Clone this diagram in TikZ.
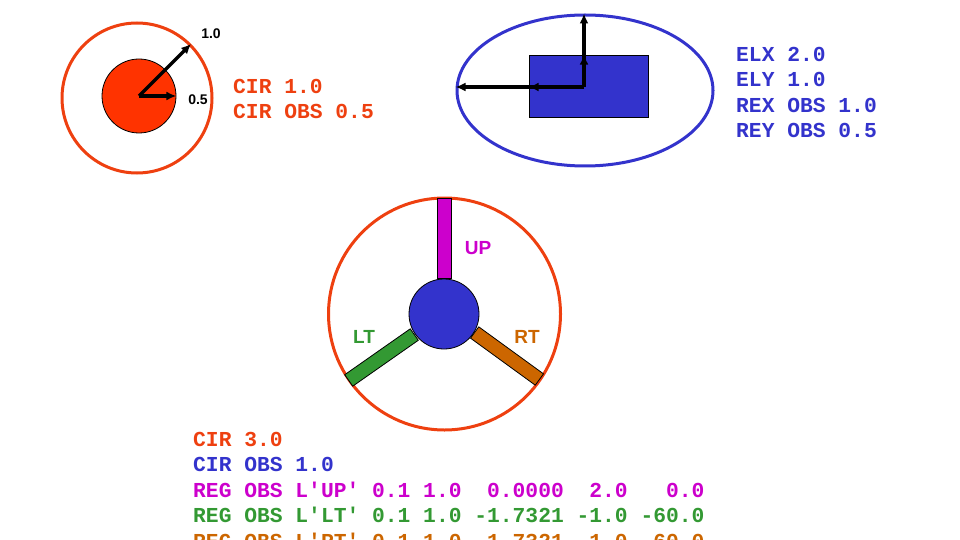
\documentclass[tikz,border=0pt]{standalone}
\usepackage{fontspec}
\setmainfont{Liberation Sans}
\newfontfamily\codefont[WordSpace={1,0,0}]{Liberation Mono}
\usetikzlibrary{shapes.geometric,arrows.meta,positioning}
\definecolor{cirred}{RGB}{238,64,16}
\definecolor{obsred}{RGB}{255,51,0}
\definecolor{obsblue}{RGB}{51,51,204}
\definecolor{upcol}{RGB}{204,0,204}
\definecolor{ltcol}{RGB}{51,153,51}
\definecolor{rtcol}{RGB}{204,102,0}
\newcommand{\qq}{\textquotesingle}

\begin{document}
\begin{tikzpicture}[
    x=1pt, y=-1pt,
    >=Stealth,
    arr/.style={-{Latex[length=10pt,width=9pt]}, line width=3.2pt, black},
    ring/.style={circle, draw=cirred, line width=3pt, inner sep=0pt},
    obs/.style={draw=black, line width=0.8pt, inner sep=0pt},
    bar/.style={rectangle, draw=black, line width=0.8pt, inner sep=0pt, minimum width=80pt, minimum height=14pt},
    code/.style={anchor=base west, inner sep=0pt, font=\codefont\bfseries\fontsize{21.3}{25.5}\selectfont},
    lbl/.style={inner sep=0pt, font=\bfseries\fontsize{14}{16}\selectfont},
    barlbl/.style={inner sep=0pt, font=\bfseries\fontsize{19}{20}\selectfont}
]
\useasboundingbox (0,0) rectangle (960,540);

% circle with circular obstacle
\node [ring, minimum size=150pt] (outer) at (137,98) {};
\node [obs, circle, fill=obsred, minimum size=74pt] (inner) at (139,96) {};
\draw [arr] (inner.center) -- (outer.45);
\draw [arr] (inner.center) -- (inner.east);
\node [lbl] (r1) at (211,34) {1.0};
\node [lbl] (r2) at (198,100) {0.5};
\node [code, text=cirred] (c1) at (233,94) {CIR 1.0};
\node [code, text=cirred] (c2) at (233,119) {CIR OBS 0.5};

% ellipse with rectangular obstacle
\node [ellipse, draw=obsblue, line width=3pt, inner sep=0pt, minimum width=256pt, minimum height=151pt] (ell) at (585,90.5) {};
\node [obs, rectangle, fill=obsblue, minimum width=119pt, minimum height=62pt] (rect) at (588.5,86) {};
\coordinate (o2) at (584,87);
\draw [arr] (o2) -- (o2 -| ell.west);
\draw [arr] (o2) -- (o2 -| rect.west);
\draw [arr] (o2) -- (o2 |- ell.north);
\draw [arr] (o2) -- (o2 |- rect.north);
\node [code, text=obsblue] (e1) at (736,62) {ELX 2.0};
\node [code, text=obsblue] (e2) at (736,87) {ELY 1.0};
\node [code, text=obsblue] (e3) at (736,112.5) {REX OBS 1.0};
\node [code, text=obsblue] (e4) at (736,138) {REY OBS 0.5};

% circle with three arms
\node [ring, minimum size=232pt] (big) at (444.5,314) {};
\node [obs, circle, fill=obsblue, minimum size=70pt] (hub) at (444,314) {};
\node [bar, fill=upcol, rotate=90] (up) at (444.5,238) {};
\node [bar, fill=ltcol, rotate=35] (lt) at (381.5,357.5) {};
\node [bar, fill=rtcol, rotate=-36] (rt) at (507,356) {};
\node [barlbl, text=upcol] (upl) at (478,248) {UP};
\node [barlbl, text=ltcol] (ltl) at (364,337) {LT};
\node [barlbl, text=rtcol] (rtl) at (527,337) {RT};

% input lines
\node [code, text=cirred] (l1) at (193,446) {CIR 3.0};
\node [code, text=obsblue] (l2) at (193,471.5) {CIR OBS 1.0};
\node [code, text=upcol] (l3) at (193,497) {REG OBS L\qq UP\qq{} 0.1 1.0~~0.0000~~2.0~~~0.0};
\node [code, text=ltcol] (l4) at (193,522.5) {REG OBS L\qq LT\qq{} 0.1 1.0 -1.7321 -1.0 -60.0};
\node [code, text=rtcol] (l5) at (193,548) {REG OBS L\qq RT\qq{} 0.1 1.0~~1.7321 -1.0~~60.0};
\end{tikzpicture}
\end{document}
